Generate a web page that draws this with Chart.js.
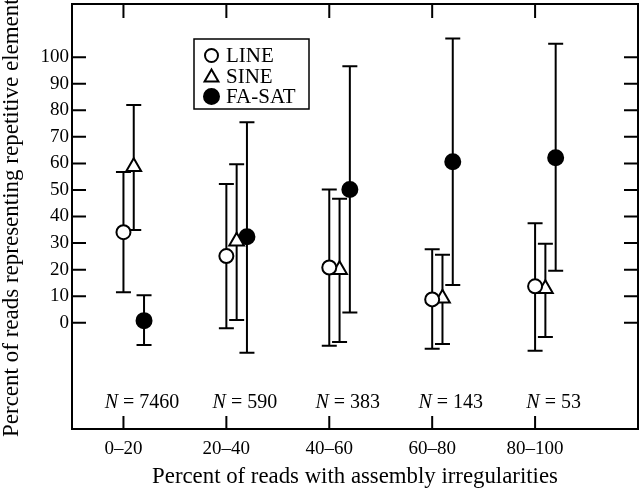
<!DOCTYPE html>
<html>
<head>
<meta charset="utf-8">
<script src="https://cdn.jsdelivr.net/npm/chart.js@4"></script>
<style>
  html, body { margin: 0; padding: 0; background: #fff; }
  #wrap { width: 640px; height: 489px; }
</style>
</head>
<body>
<div id="wrap"><canvas id="chart"></canvas></div>
<script>
// data
const categories = ['0–20', '20–40', '40–60', '60–80', '80–100'];
const sampleSizes = ['7460', '590', '383', '143', '53'];
const yTicks = [0, 10, 20, 30, 40, 50, 60, 70, 80, 90, 100];

const lineMean = [34.1, 25.1, 20.8, 8.8, 13.7];
const lineLow  = [11.5, -2.1, -8.7, -9.8, -10.5];
const lineHigh = [56.8, 52.2, 50.2, 27.7, 37.5];

const sineMean = [58.7, 30.7, 20.0, 9.2, 12.8];
const sineLow  = [34.9, 1.0, -7.2, -8.0, -5.4];
const sineHigh = [82.0, 59.7, 46.7, 25.6, 29.7];

const fasatMean = [0.8, 32.4, 50.2, 60.6, 62.1];
const fasatLow  = [-8.4, -11.3, 3.9, 14.2, 19.6];
const fasatHigh = [10.4, 75.5, 96.6, 107.0, 105.0];

const FONT = '"Liberation Serif", "Times New Roman", serif';

function points(mean, low, high, shift) {
  return mean.map((m, i) => ({ x: i + shift, y: m, lo: low[i], hi: high[i] }));
}

// ------------------------------------------------------
// error bars, frame, inward ticks, legend, titles
// ------------------------------------------------------
const errorBars = {
  id: 'errorBars',
  beforeDatasetsDraw(chart) {
    const { ctx, scales: { x, y } } = chart;
    ctx.save();
    ctx.strokeStyle = '#000';
    ctx.lineWidth = 2;
    chart.data.datasets.forEach(ds => {
      ds.data.forEach(p => {
        const px = x.getPixelForValue(p.x);
        const top = y.getPixelForValue(p.hi);
        const bot = y.getPixelForValue(p.lo);
        ctx.beginPath();
        ctx.moveTo(px, top); ctx.lineTo(px, bot);
        ctx.moveTo(px - 7.5, top); ctx.lineTo(px + 7.5, top);
        ctx.moveTo(px - 7.5, bot); ctx.lineTo(px + 7.5, bot);
        ctx.stroke();
      });
    });
    ctx.restore();
  }
};

const decorations = {
  id: 'decorations',
  afterDraw(chart) {
    const { ctx, chartArea: a, scales: { x, y } } = chart;
    ctx.save();
    ctx.strokeStyle = '#000';
    ctx.fillStyle = '#000';
    ctx.lineWidth = 2;
    ctx.strokeRect(a.left, a.top, a.right - a.left, a.bottom - a.top);

    // inward ticks on all four sides
    ctx.beginPath();
    yTicks.forEach(v => {
      const py = y.getPixelForValue(v);
      ctx.moveTo(a.left, py); ctx.lineTo(a.left + 14, py);
      ctx.moveTo(a.right, py); ctx.lineTo(a.right - 14, py);
    });
    categories.forEach((c, i) => {
      const px = x.getPixelForValue(i);
      ctx.moveTo(px, a.bottom); ctx.lineTo(px, a.bottom - 13);
      ctx.moveTo(px, a.top); ctx.lineTo(px, a.top + 14);
    });
    ctx.stroke();

    // N = ... labels
    ctx.textBaseline = 'middle';
    const ny = y.getPixelForValue(-30);
    sampleSizes.forEach((n, i) => {
      const cx = x.getPixelForValue(i + 0.18);
      ctx.font = 'italic 20px ' + FONT;
      const w1 = ctx.measureText('N').width;
      ctx.font = '20px ' + FONT;
      const rest = ' = ' + n;
      const w2 = ctx.measureText(rest).width;
      const sx = cx - (w1 + w2) / 2;
      ctx.textAlign = 'left';
      ctx.font = 'italic 20px ' + FONT;
      ctx.fillText('N', sx, ny);
      ctx.font = '20px ' + FONT;
      ctx.fillText(rest, sx + w1, ny);
    });

    // legend
    const lx = a.left + 122, ly = a.top + 35;
    ctx.lineWidth = 1.5;
    ctx.strokeRect(lx, ly, 115, 70);
    chart.data.datasets.forEach((ds, i) => {
      const my = ly + 16.5 + i * 20.5;
      ctx.fillStyle = ds.backgroundColor;
      ctx.strokeStyle = '#000';
      ctx.lineWidth = 2;
      Chart.helpers.drawPoint(ctx, {
        pointStyle: ds.pointStyle,
        radius: ds.pointStyle === 'triangle' ? 8 : (i === 0 ? 6.5 : 7.5),
        borderWidth: 2
      }, lx + 17.5, my + (ds.pointStyle === 'triangle' ? 1.5 : 0));
      ctx.fillStyle = '#000';
      ctx.font = '21px ' + FONT;
      ctx.textAlign = 'left';
      ctx.fillText(ds.label, lx + 32, my + 1);
    });

    // axis titles
    ctx.font = '22.8px ' + FONT;
    ctx.textAlign = 'center';
    ctx.textBaseline = 'alphabetic';
    ctx.fillText('Percent of reads with assembly irregularities', (a.left + a.right) / 2, 483);
    ctx.save();
    ctx.translate(18, 437);
    ctx.rotate(-Math.PI / 2);
    ctx.textAlign = 'left';
    ctx.font = '23px ' + FONT;
    ctx.fillText('Percent of reads representing repetitive elements', 0, 0);
    ctx.restore();

    ctx.restore();
  }
};

const seriesStyle = { borderColor: '#000', borderWidth: 2, showLine: false };

new Chart(document.getElementById('chart'), {
  type: 'scatter',
  data: {
    datasets: [
      Object.assign({ label: 'LINE', data: points(lineMean, lineLow, lineHigh, 0),
        pointStyle: 'circle', backgroundColor: '#fff', pointRadius: 7 }, seriesStyle),
      Object.assign({ label: 'SINE', data: points(sineMean, sineLow, sineHigh, 0.1),
        pointStyle: 'triangle', backgroundColor: '#fff', pointRadius: 8.5 }, seriesStyle),
      Object.assign({ label: 'FA-SAT', data: points(fasatMean, fasatLow, fasatHigh, 0.2),
        pointStyle: 'circle', backgroundColor: '#000', pointRadius: 7.5 }, seriesStyle)
    ]
  },
  options: {
    responsive: true,
    maintainAspectRatio: false,
    animation: false,
    layout: { autoPadding: false, padding: { top: 4, right: 2, left: 0, bottom: 0 } },
    plugins: { legend: { display: false }, tooltip: { enabled: false } },
    scales: {
      x: {
        type: 'linear', min: -0.5, max: 5.0,
        grid: { display: false, drawTicks: false },
        border: { display: false },
        afterBuildTicks: s => { s.ticks = categories.map((c, i) => ({ value: i })); },
        afterFit: s => { s.height = 60; s.paddingLeft = 0; s.paddingRight = 0; },
        ticks: {
          color: '#000', padding: 9, maxRotation: 0, autoSkip: false,
          font: { family: FONT, size: 19 },
          callback: v => categories[v]
        }
      },
      y: {
        min: -40, max: 120,
        grid: { display: false, drawTicks: false },
        border: { display: false },
        afterBuildTicks: s => { s.ticks = yTicks.map(v => ({ value: v })); },
        afterFit: s => { s.width = 72; s.paddingTop = 0; s.paddingBottom = 0; },
        ticks: {
          color: '#000', padding: 3, autoSkip: false,
          font: { family: FONT, size: 19 }
        }
      }
    }
  },
  plugins: [errorBars, decorations]
});
</script>
</body>
</html>
